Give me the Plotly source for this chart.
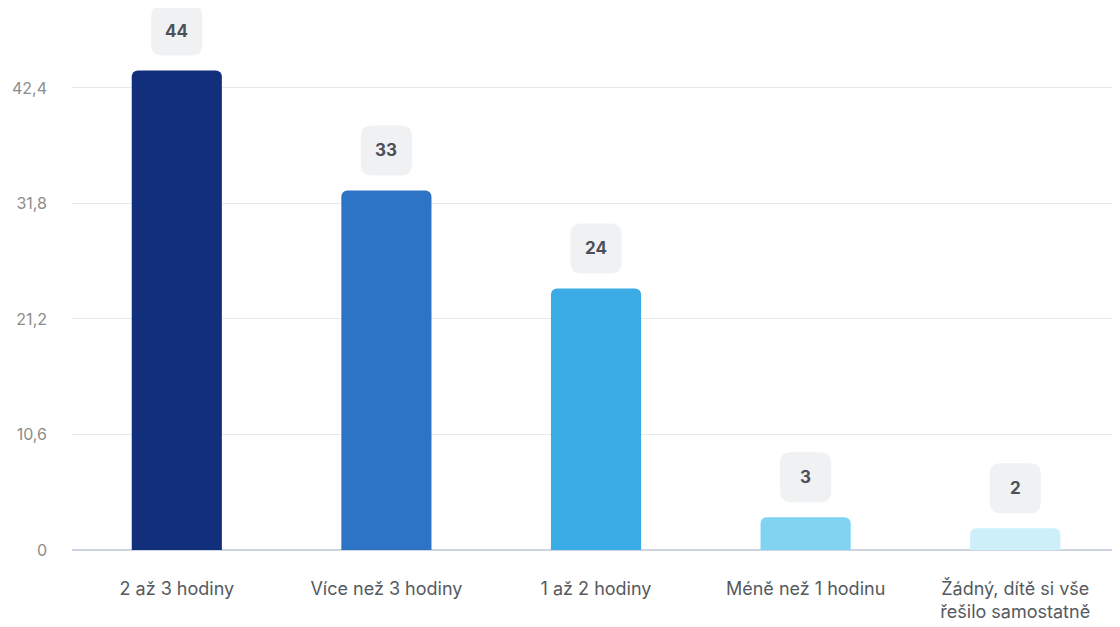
import plotly.graph_objects as go

categories = ["2 až 3 hodiny", "Více než 3 hodiny", "1 až 2 hodiny", "Méně než 1 hodinu",
              "Žádný, dítě si vše<br>řešilo samostatně"]
values = [44, 33, 24, 3, 2]
bar_colors = ["#122f7c", "#2d74c5", "#3babe5", "#80d4f2", "#ccEFf9"]
y_tickvals = [0, 10.6, 21.2, 31.8, 42.4]
y_ticktext = ["0", "10,6", "21,2", "31,8", "42,4"]

fig = go.Figure()
fig.add_trace(go.Bar(
    x=list(range(len(categories))), y=values,
    marker=dict(color=bar_colors, line=dict(width=0)),
    width=0.43, hoverinfo="skip",
))

def rounded_rect(w, h, r, cy):
    x0, x1 = -w / 2, w / 2
    y0, y1 = cy - h / 2, cy + h / 2
    return (f"M {x0+r},{y0} L {x1-r},{y0} Q {x1},{y0} {x1},{y0+r} "
            f"L {x1},{y1-r} Q {x1},{y1} {x1-r},{y1} L {x0+r},{y1} "
            f"Q {x0},{y1} {x0},{y1-r} L {x0},{y0+r} Q {x0},{y0} {x0+r},{y0} Z")

shapes = []
annotations = []
for i, v in enumerate(values):
    shapes.append(dict(
        type="path", xref="x", yref="y", xsizemode="pixel", ysizemode="pixel",
        xanchor=i, yanchor=v, path=rounded_rect(51, 50, 11, 40),
        fillcolor="#f0f1f3", line=dict(width=0), layer="above",
    ))
    annotations.append(dict(
        x=i, y=v, xref="x", yref="y", text=f"<b>{v}</b>", showarrow=False,
        yshift=40, font=dict(size=17, color="#4b5059", family="Inter"),
    ))

fig.update_layout(
    width=1120, height=627,
    margin=dict(l=64, r=0, t=0, b=85),
    paper_bgcolor="white", plot_bgcolor="white",
    showlegend=False,
    barcornerradius=6,
    shapes=shapes, annotations=annotations,
    font=dict(family="Inter"),
    xaxis=dict(
        range=[-0.5, 4.538], tickmode="array",
        tickvals=list(range(len(categories))), ticktext=categories,
        showgrid=False, zeroline=False, showline=False,
        tickfont=dict(size=18, color="#555a60"),
        ticks="", ticklabelstandoff=26,
    ),
    yaxis=dict(
        range=[0, 49.74], tickmode="array", tickvals=y_tickvals, ticktext=y_ticktext,
        showgrid=True, gridcolor="#e7e9ee", gridwidth=1,
        zeroline=True, zerolinecolor="#cfd4e2", zerolinewidth=2,
        showline=False, ticks="",
        tickfont=dict(size=16, color="#8c8c8c"),
        ticklabelstandoff=24,
    ),
)

fig.write_html("out.html")
